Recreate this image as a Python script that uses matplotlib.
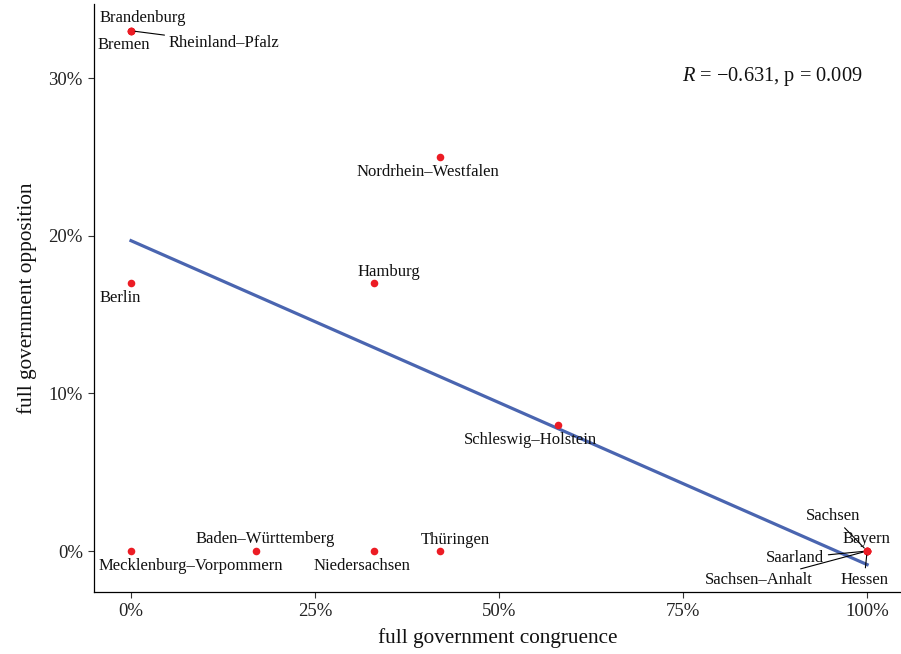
import numpy as np
import matplotlib
matplotlib.use("Agg")
import matplotlib.pyplot as plt
from matplotlib.ticker import PercentFormatter

plt.rcParams['font.family'] = ['Liberation Serif', 'DejaVu Serif']
plt.rcParams['mathtext.fontset'] = 'custom'
plt.rcParams['mathtext.rm'] = 'Liberation Serif'
plt.rcParams['mathtext.it'] = 'Liberation Serif:italic'

# share of full government congruence / opposition per state
states = ['Brandenburg', 'Bremen', 'Rheinland–Pfalz', 'Berlin',
          'Mecklenburg–Vorpommern', 'Baden–Württemberg', 'Hamburg',
          'Niedersachsen', 'Nordrhein–Westfalen', 'Thüringen',
          'Schleswig–Holstein', 'Sachsen', 'Bayern', 'Saarland',
          'Sachsen–Anhalt', 'Hessen']
congruence = [0.0, 0.0, 0.0, 0.0, 0.0, 0.17, 0.33, 0.33, 0.42, 0.42,
              0.58, 1.0, 1.0, 1.0, 1.0, 1.0]
opposition = [0.33, 0.33, 0.33, 0.17, 0.0, 0.0, 0.17, 0.0, 0.25, 0.0,
              0.08, 0.0, 0.0, 0.0, 0.0, 0.0]
stat_label = '$R$ = \u22120.631, p = 0.009'

# label offsets in pixels (dx, dy) and whether a leader segment is drawn
offsets = {
    'Brandenburg': (12, 13, False),
    'Bremen': (-7, -14, False),
    'Rheinland–Pfalz': (93, -12, True),
    'Berlin': (-11, -15, False),
    'Mecklenburg–Vorpommern': (60, -15, False),
    'Baden–Württemberg': (9, 12, False),
    'Hamburg': (15, 11, False),
    'Niedersachsen': (-12, -15, False),
    'Nordrhein–Westfalen': (-12, -15, False),
    'Thüringen': (15, 11, False),
    'Schleswig–Holstein': (-28, -15, False),
    'Sachsen': (-34, 35, True),
    'Bayern': (-1, 12, False),
    'Saarland': (-72, -7, True),
    'Sachsen–Anhalt': (-108, -29, True),
    'Hessen': (-3, -29, True),
}

fig = plt.figure(figsize=(9.01, 6.54), dpi=100)
ax = fig.add_axes([0.1043, 0.0948, 0.8957, 0.8991])

x = np.array(congruence)
y = np.array(opposition)
slope, intercept = np.polyfit(x, y, 1)
xs = np.array([0.0, 1.0])
ax.plot(xs, intercept + slope * xs, color='#4A65B0', lw=2.3, zorder=2)

ax.scatter(x, y, s=30, color='#EC1C24', zorder=3, linewidths=0)

for name, xi, yi in zip(states, congruence, opposition):
    dx, dy, seg = offsets[name]
    arrow = dict(arrowstyle='-', color='black', lw=0.8, shrinkA=1, shrinkB=3) if seg else None
    ax.annotate(name, (xi, yi), xytext=(dx, dy), textcoords='offset pixels',
                ha='center', va='center', fontsize=12, color='#111111',
                arrowprops=arrow, zorder=4)

ax.text(0.952, 0.876, stat_label, transform=ax.transAxes, ha='right', va='center',
        fontsize=14.7, color='#111111')

ax.set_xlim(-0.0503, 1.046)
ax.set_ylim(-0.026, 0.347)
ax.set_xticks([0, 0.25, 0.5, 0.75, 1.0])
ax.set_yticks([0, 0.1, 0.2, 0.3])
ax.xaxis.set_major_formatter(PercentFormatter(1.0, decimals=0))
ax.yaxis.set_major_formatter(PercentFormatter(1.0, decimals=0))

for side in ['top', 'right']:
    ax.spines[side].set_visible(False)
for side in ['left', 'bottom']:
    ax.spines[side].set_linewidth(0.9)
    ax.spines[side].set_color('black')
ax.tick_params(direction='out', length=4, width=0.8, colors='#333333',
               labelsize=13.5, labelcolor='#222222', pad=4)

ax.set_xlabel('full government congruence', fontsize=15.3, color='#111111', labelpad=6)
ax.set_ylabel('full government opposition', fontsize=15.3, color='#111111', labelpad=8)

fig.savefig('out.png', dpi=100)
